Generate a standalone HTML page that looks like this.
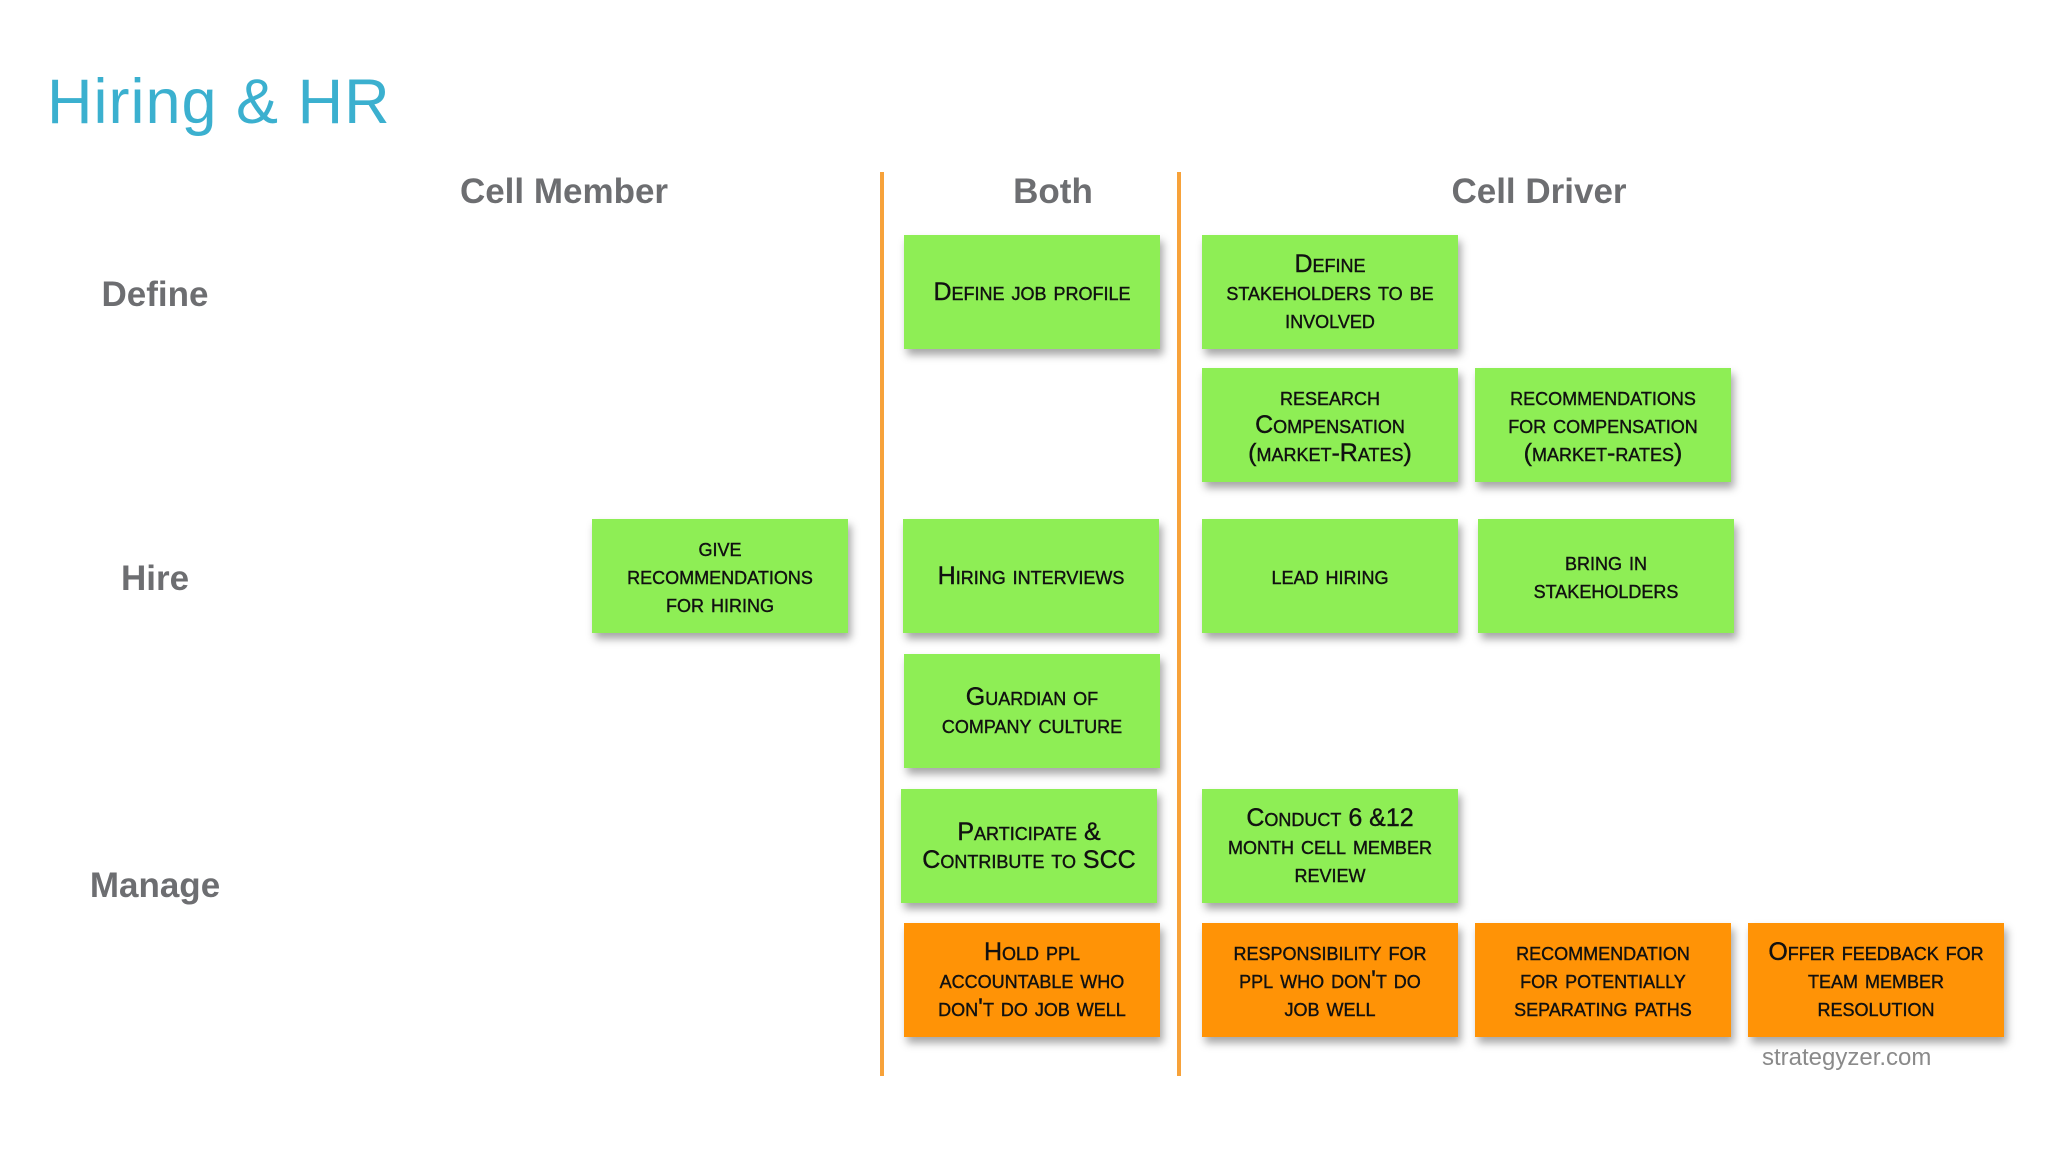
<!DOCTYPE html>
<html><head><meta charset="utf-8"><style>
body{margin:0;width:2048px;height:1152px;background:#fff;position:relative;overflow:hidden;font-family:"Liberation Sans",sans-serif}
.t{position:absolute;left:47px;top:66px;font-size:63px;color:#3bb0cf;letter-spacing:1px}
.h{position:absolute;font-size:35px;font-weight:bold;color:#6d6e71;transform:translateX(-50%);white-space:nowrap}
.v{position:absolute;top:172px;height:904px;width:4px;background:#f7a23a}
.n{position:absolute;width:256px;height:114px;background:#8eee55;box-shadow:3px 6px 8px rgba(0,0,0,.35);display:flex;align-items:center;justify-content:center;text-align:center;font-size:25px;line-height:28px;font-variant:small-caps;color:#111;-webkit-text-stroke:.4px #111;box-sizing:border-box;white-space:nowrap}
.o{background:#ff9306}
</style></head><body>
<div class="t">Hiring &amp; HR</div>
<div class="h" style="left:564px;top:172px">Cell Member</div>
<div class="h" style="left:1053px;top:172px">Both</div>
<div class="h" style="left:1539px;top:172px">Cell Driver</div>
<div class="h" style="left:155px;top:275px">Define</div>
<div class="h" style="left:155px;top:559px">Hire</div>
<div class="h" style="left:155px;top:866px">Manage</div>
<div class="v" style="left:880px"></div>
<div class="v" style="left:1177px"></div>
<div class="n" style="left:904px;top:235px">Define job profile</div>
<div class="n" style="left:1202px;top:235px">Define<br>stakeholders to be<br>involved</div>
<div class="n" style="left:1202px;top:368px">research<br>Compensation<br>(market-Rates)</div>
<div class="n" style="left:1475px;top:368px">recommendations<br>for compensation<br>(market-rates)</div>
<div class="n" style="left:592px;top:519px">give<br>recommendations<br>for hiring</div>
<div class="n" style="left:903px;top:519px">Hiring interviews</div>
<div class="n" style="left:1202px;top:519px">lead hiring</div>
<div class="n" style="left:1478px;top:519px">bring in<br>stakeholders</div>
<div class="n" style="left:904px;top:654px">Guardian of<br>company culture</div>
<div class="n" style="left:901px;top:789px">Participate &amp;<br>Contribute to SCC</div>
<div class="n" style="left:1202px;top:789px">Conduct 6 &amp;12<br>month cell member<br>review</div>
<div style="position:absolute;left:1762px;top:1044px;font-size:24px;color:#8a8a8a">strategyzer.com</div>
<div class="n o" style="left:904px;top:923px">Hold ppl<br>accountable who<br>don't do job well</div>
<div class="n o" style="left:1202px;top:923px">responsibility for<br>ppl who don't do<br>job well</div>
<div class="n o" style="left:1475px;top:923px">recommendation<br>for potentially<br>separating paths</div>
<div class="n o" style="left:1748px;top:923px">Offer feedback for<br>team member<br>resolution</div>
</body></html>
